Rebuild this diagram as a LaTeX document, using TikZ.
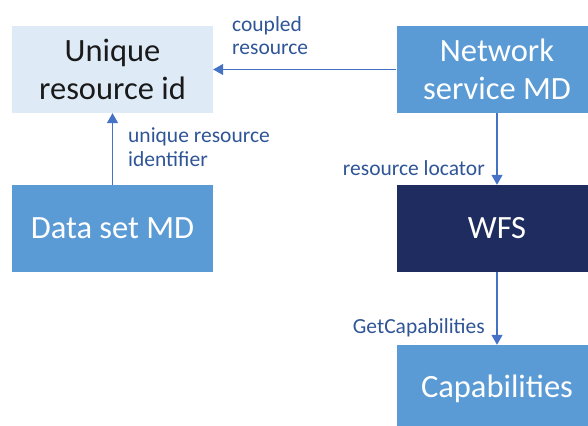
\documentclass[tikz,border=0pt]{standalone}
\usepackage{fontspec}
\setmainfont{Carlito}
\usetikzlibrary{arrows.meta}
\definecolor{boxlight}{HTML}{DEEBF7}
\definecolor{boxmid}{HTML}{5B9BD5}
\definecolor{boxdark}{HTML}{1F2C5F}
\definecolor{linkblue}{HTML}{4472C4}
\definecolor{labelblue}{HTML}{2F5597}
\definecolor{inktext}{HTML}{1A1A1A}
\tikzset{
  mdbox/.style={rectangle, minimum width=201pt, minimum height=87pt, inner sep=0pt,
    align=center, font=\fontsize{32.5}{38}\selectfont},
  lightbox/.style={mdbox, fill=boxlight, text=inktext},
  midbox/.style={mdbox, fill=boxmid, text=white},
  darkbox/.style={mdbox, fill=boxdark, text=white},
  link/.style={draw=linkblue, line width=1.4pt, -{Triangle[length=10pt,width=11pt]}},
  linklabel/.style={inner sep=0pt, text=labelblue, font=\fontsize{21.5}{23.5}\selectfont}
}
\begin{document}
\begin{tikzpicture}[x=1pt,y=1pt]
  \useasboundingbox (0,0) rectangle (588,-425);

  % metadata records and service boxes
  \node[lightbox] (uid)  at (112.5,-69.5)  {Unique\\resource id};
  \node[midbox]   (dsmd) at (112.5,-228.5) {Data set MD};
  \node[midbox]   (nsmd) at (497,-69.5)    {Network\\service MD};
  \node[darkbox]  (wfs)  at (497,-228.5)   {WFS};
  \node[midbox]   (cap)  at (497,-388.5)   {Capabilities};

  % links between them
  \draw[link] (nsmd.west) -- (uid.east);
  \draw[link] (dsmd.north) -- (uid.south);
  \draw[link] (nsmd.south) -- (wfs.north);
  \draw[link] (wfs.south) -- (cap.north);

  % link labels (base anchor sits on the last line)
  \node[linklabel, align=left, anchor=base west] (lcoupled) at (232,-55) {coupled\\resource};
  \node[linklabel, align=left, anchor=base west] (luri) at (128,-166) {unique resource\\identifier};
  \node[linklabel, anchor=base east] (lloc) at (485,-175) {resource locator};
  \node[linklabel, anchor=base east] (lgetcap) at (485,-333) {GetCapabilities};
\end{tikzpicture}
\end{document}
